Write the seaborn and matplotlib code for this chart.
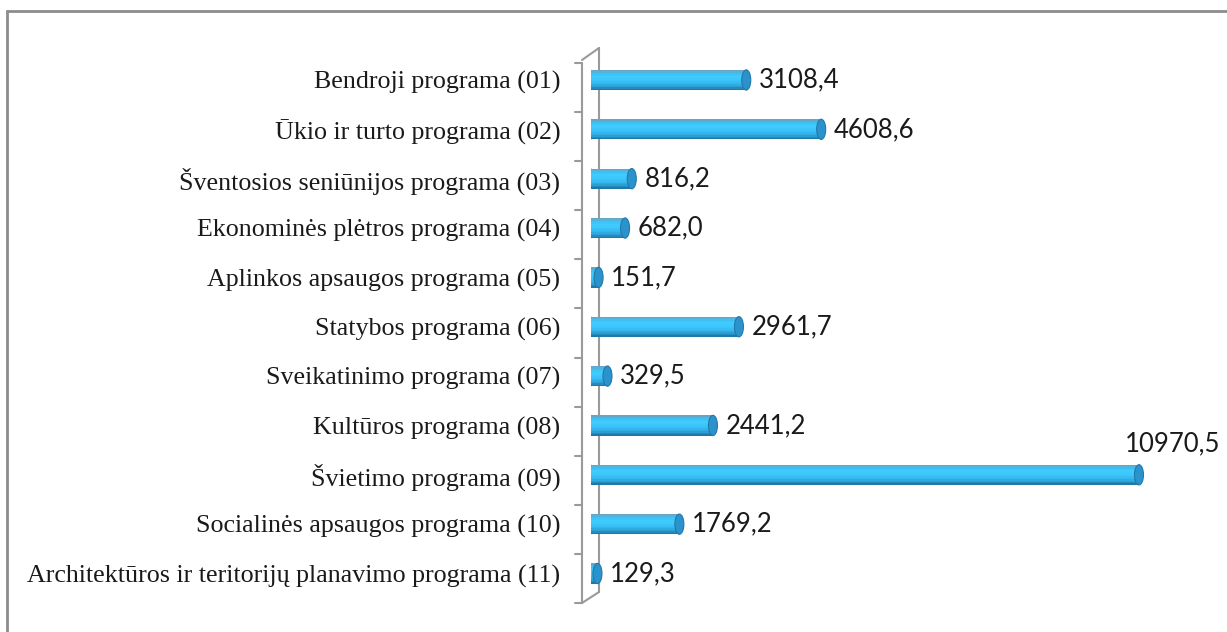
import numpy as np
import matplotlib
matplotlib.use("Agg")
import matplotlib.pyplot as plt
import seaborn as sns
from matplotlib.patches import Ellipse, Rectangle
from matplotlib.lines import Line2D
from matplotlib.colors import LinearSegmentedColormap

programs = [
    "Bendroji programa (01)",
    "Ūkio ir turto programa (02)",
    "Šventosios seniūnijos programa (03)",
    "Ekonominės plėtros programa (04)",
    "Aplinkos apsaugos programa (05)",
    "Statybos programa (06)",
    "Sveikatinimo programa (07)",
    "Kultūros programa (08)",
    "Švietimo programa (09)",
    "Socialinės apsaugos programa (10)",
    "Architektūros ir teritorijų planavimo programa (11)",
]
amounts = [3108.4, 4608.6, 816.2, 682.0, 151.7, 2961.7, 329.5, 2441.2, 10970.5, 1769.2, 129.3]

W, H = 1227, 632
sns.set_style("white")

fig = plt.figure(figsize=(W / 100, H / 100), dpi=100)
fig.patch.set_facecolor("white")


def px(x, y):
    # pixel (from top-left) -> figure fraction
    return x / W, 1 - y / H


# axes placed so that data 0 sits at the bar start
left, top = px(591, 55.3)
right, bottom = px(1204, 598.2)
ax = fig.add_axes([left, bottom, right - left, top - bottom])
ax.patch.set_visible(False)

body = "#38C0F5"
bar_h = 0.41
sns.barplot(x=amounts, y=programs, orient="h", color=body, width=bar_h,
            saturation=1, edgecolor="none", ax=ax, zorder=2)

ypos = np.arange(len(programs))
vals = np.array(amounts)
ax.set_xlim(0, 613 / 0.04995)
ax.set_ylim(len(programs) - 0.5, -0.5)

# cylinder shading: thin stripes from top to bottom
shade = LinearSegmentedColormap.from_list(
    "cyl", ["#64A6C6", "#3BC3F6", "#40CCFF", "#3CC6FB", "#35B9F0", "#2CA2D8", "#1F78A6"])
n_str = 14
step = bar_h / n_str
for k in range(n_str):
    off = -bar_h / 2 + step * (k + 0.5)
    ax.barh(ypos + off, vals, height=step * 1.05, color=shade(k / (n_str - 1)),
            zorder=3, linewidth=0)
cap_w = 9 / 0.04995
for y, v in zip(ypos, vals):
    ax.add_patch(Ellipse((0, y), cap_w, bar_h, facecolor=body, edgecolor="none", zorder=2))
    ax.add_patch(Ellipse((v, y), cap_w, bar_h, facecolor="#2B93CC",
                         edgecolor="#2378A8", linewidth=0.8, zorder=4))

# value labels
vmax = vals.max()
lab_style = dict(fontsize=18.5, family="Lato", color="#1a1a1a")
for y, v in zip(ypos, vals):
    txt = f"{v:.1f}".replace(".", ",")
    if v == vmax:
        ax.annotate(txt, (v, y), xytext=(24, 13), textcoords="offset points",
                    ha="center", va="bottom", **lab_style)
    else:
        ax.annotate(txt, (v, y), xytext=(9, 0), textcoords="offset points",
                    ha="left", va="center", **lab_style)

for s in ax.spines.values():
    s.set_visible(False)
ax.set_xticks([])
ax.set_xlabel("")
ax.set_ylabel("")
ax.tick_params(axis="y", length=0, pad=22)
for lab in ax.get_yticklabels():
    lab.set_fontfamily("Liberation Serif")
    lab.set_fontsize(18.7)
    lab.set_color("#1a1a1a")

# 3D wall of the category axis
wall = dict(color="#9a9a9a", linewidth=1.5, zorder=0)
segs = [((582, 63), (582, 603)), ((599, 48), (599, 592)),
        ((582, 60), (599, 48)), ((582, 603), (599, 592))]
for a, b in segs:
    (x0, y0), (x1, y1) = px(*a), px(*b)
    fig.add_artist(Line2D([x0, x1], [y0, y1], transform=fig.transFigure, **wall))
for k in range(len(programs) + 1):
    ty = 63 + k * (603 - 63) / len(programs)
    (x0, y0), (x1, y1) = px(575, ty), px(582, ty)
    fig.add_artist(Line2D([x0, x1], [y0, y1], transform=fig.transFigure, **wall))

# outer chart border
bx, by = px(7, 11)
fig.add_artist(Rectangle((bx, -0.1), 1.2, by + 0.1, transform=fig.transFigure,
                         fill=False, edgecolor="#8c8c8c", linewidth=2, clip_on=False))

fig.savefig("out.png", dpi=100)
